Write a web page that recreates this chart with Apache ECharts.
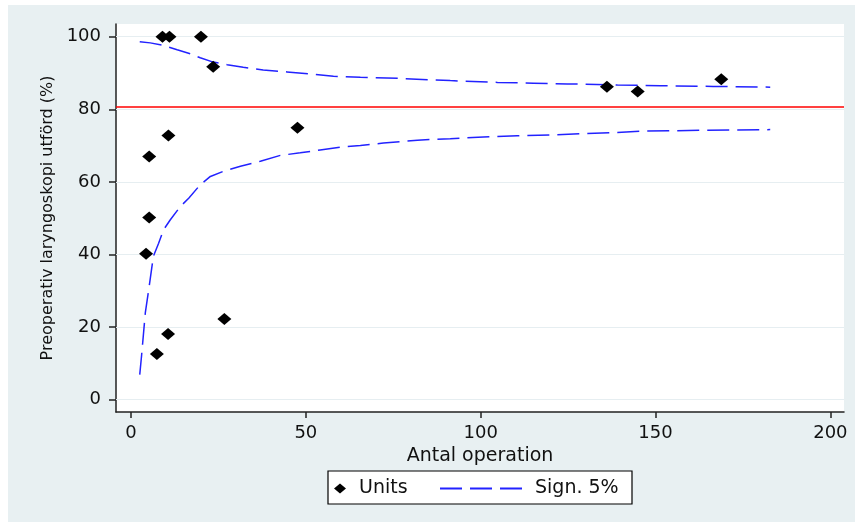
<!DOCTYPE html>
<html><head><meta charset="utf-8">
<script src="https://cdn.jsdelivr.net/npm/echarts@6/dist/echarts.min.js"></script>
<style>html,body{margin:0;padding:0;background:#fff}#c{width:855px;height:522px}</style>
</head><body><div id="c"></div>
<script>
const unitsX = [9, 11, 20, 23.5, 10.7, 5.2, 47.6, 5.2, 4.3, 10.6, 7.4, 26.7, 136.1, 144.9, 168.8];
const unitsY = [100, 100, 100, 91.7, 72.8, 67.0, 74.9, 50.2, 40.2, 18.1, 12.6, 22.2, 86.2, 84.9, 88.3];
const upperX = [2.5, 5.5, 8.9, 13.2, 17.0, 19.8, 23.5, 27.5, 32.1, 37.8, 44.6, 51.3, 57.9, 65.6, 77.0, 91.3, 104.8, 115.1, 124.8, 139.1, 151.4, 166.5, 182.8];
const upperY = [98.6, 98.3, 97.7, 96.4, 95.3, 94.2, 93.0, 92.3, 91.6, 90.8, 90.3, 89.7, 89.1, 88.8, 88.5, 87.9, 87.4, 87.2, 87.0, 86.7, 86.5, 86.3, 86.1];
const lowerX = [2.5, 3.0, 4.1, 5.2, 6.4, 7.9, 9.3, 11.2, 14.1, 16.5, 19.8, 22.7, 26.4, 31.3, 37.0, 42.7, 48.4, 54.1, 59.9, 65.6, 72.2, 81.9, 91.3, 100.8, 110.5, 119.9, 129.3, 139.1, 146.5, 162.8, 182.8];
const lowerY = [6.9, 11.9, 24.0, 31.2, 39.5, 43.1, 46.8, 49.5, 53.2, 55.5, 59.2, 61.5, 62.9, 64.3, 65.7, 67.3, 68.0, 68.8, 69.6, 70.0, 70.7, 71.5, 71.9, 72.4, 72.7, 72.9, 73.3, 73.6, 74.0, 74.2, 74.4];
const refValue = 80.7;
const xTicks = [0, 50, 100, 150, 200];
const yTicks = [0, 20, 40, 60, 80, 100];
const xTitle = 'Antal operation';
const yTitle = 'Preoperativ laryngoskopi utförd (%)';
const unitsName = 'Units';
const bandName = 'Sign. 5%';

const FONT = 'DejaVu Sans';
const TXT = '#111';
const BLUE = '#2222ff';
const zip = (a, b) => a.map((v, i) => [v, b[i]]);

const chart = echarts.init(document.getElementById('c'), null, {renderer: 'canvas'});
chart.setOption({
  backgroundColor: '#e8f0f2',
  animation: false,
  graphic: [
    {type: 'rect', shape: {x: 0, y: 0, width: 8, height: 522}, style: {fill: '#fff'}, silent: true},
    {type: 'rect', shape: {x: 0, y: 0, width: 855, height: 5}, style: {fill: '#fff'}, silent: true},
    {type: 'rect', shape: {x: 328, y: 471, width: 304, height: 33}, style: {fill: '#fff', stroke: '#000', lineWidth: 1.2}, silent: true, z: 1}
  ],
  grid: {left: 116, top: 24, width: 728, height: 388, show: true, backgroundColor: '#fff', borderWidth: 0},
  xAxis: {
    type: 'value', min: -4.29, max: 203.9,
    axisLine: {show: true, onZero: false, lineStyle: {color: '#222', width: 1.5}},
    axisTick: {show: true, customValues: xTicks, length: 6, lineStyle: {color: '#222', width: 1.5}},
    axisLabel: {customValues: xTicks, fontFamily: FONT, fontSize: 18, color: TXT, margin: 12},
    splitLine: {show: false},
    name: xTitle, nameLocation: 'middle', nameGap: 27,
    nameTextStyle: {fontFamily: FONT, fontSize: 19, color: TXT}
  },
  yAxis: {
    type: 'value', min: -3.4, max: 103.5,
    axisLine: {show: true, onZero: false, lineStyle: {color: '#222', width: 1.5}},
    axisTick: {show: true, customValues: yTicks, length: 7, lineStyle: {color: '#222', width: 1.5}},
    axisLabel: {customValues: yTicks, fontFamily: FONT, fontSize: 18, color: TXT, margin: 15},
    splitLine: {show: false},
    name: yTitle, nameLocation: 'middle', nameGap: 58,
    nameTextStyle: {fontFamily: FONT, fontSize: 16, color: TXT}
  },
  legend: [
    {data: [{name: unitsName, icon: 'diamond'}], left: 334, top: 479, padding: 0, itemWidth: 12, itemHeight: 10, selectedMode: false,
     textStyle: {fontFamily: FONT, fontSize: 19, color: TXT, padding: [0, 0, 0, 8]}, z: 10},
    {data: [{name: bandName, icon: 'path://M0,0H22V2H0Z M30,0H52V2H30Z M60,0H82V2H60Z'}], left: 440, top: 479, padding: 0, itemWidth: 82, itemHeight: 2, selectedMode: false,
     itemStyle: {color: BLUE},
     textStyle: {fontFamily: FONT, fontSize: 19, color: TXT, padding: [0, 0, 0, 8]}, z: 10}
  ],
  series: [
    {
      type: 'line', name: 'grid', data: [], silent: true, z: 1,
      markLine: {silent: true, symbol: 'none', label: {show: false}, z: 1,
        lineStyle: {color: '#e6eef1', width: 1, type: 'solid'},
        data: yTicks.map(v => ({yAxis: v}))}
    },
    {
      type: 'line', name: 'ref', data: [], silent: true, z: 2,
      markLine: {silent: true, symbol: 'none', label: {show: false}, z: 2,
        lineStyle: {color: '#ff0000', width: 1.6, type: 'solid'},
        data: [{yAxis: refValue}]}
    },
    {
      type: 'line', name: bandName, data: zip(upperX, upperY), symbol: 'none', showSymbol: false, z: 3,
      lineStyle: {color: BLUE, width: 1.5, type: [22, 8]}, itemStyle: {color: BLUE}
    },
    {
      type: 'line', name: bandName, data: zip(lowerX, lowerY), symbol: 'none', showSymbol: false, z: 3,
      lineStyle: {color: BLUE, width: 1.5, type: [22, 8]}, itemStyle: {color: BLUE}
    },
    {
      type: 'scatter', name: unitsName, data: zip(unitsX, unitsY), symbol: 'diamond', symbolSize: [14, 12], z: 4,
      itemStyle: {color: '#000', opacity: 1}
    }
  ]
});
</script>
</body></html>
